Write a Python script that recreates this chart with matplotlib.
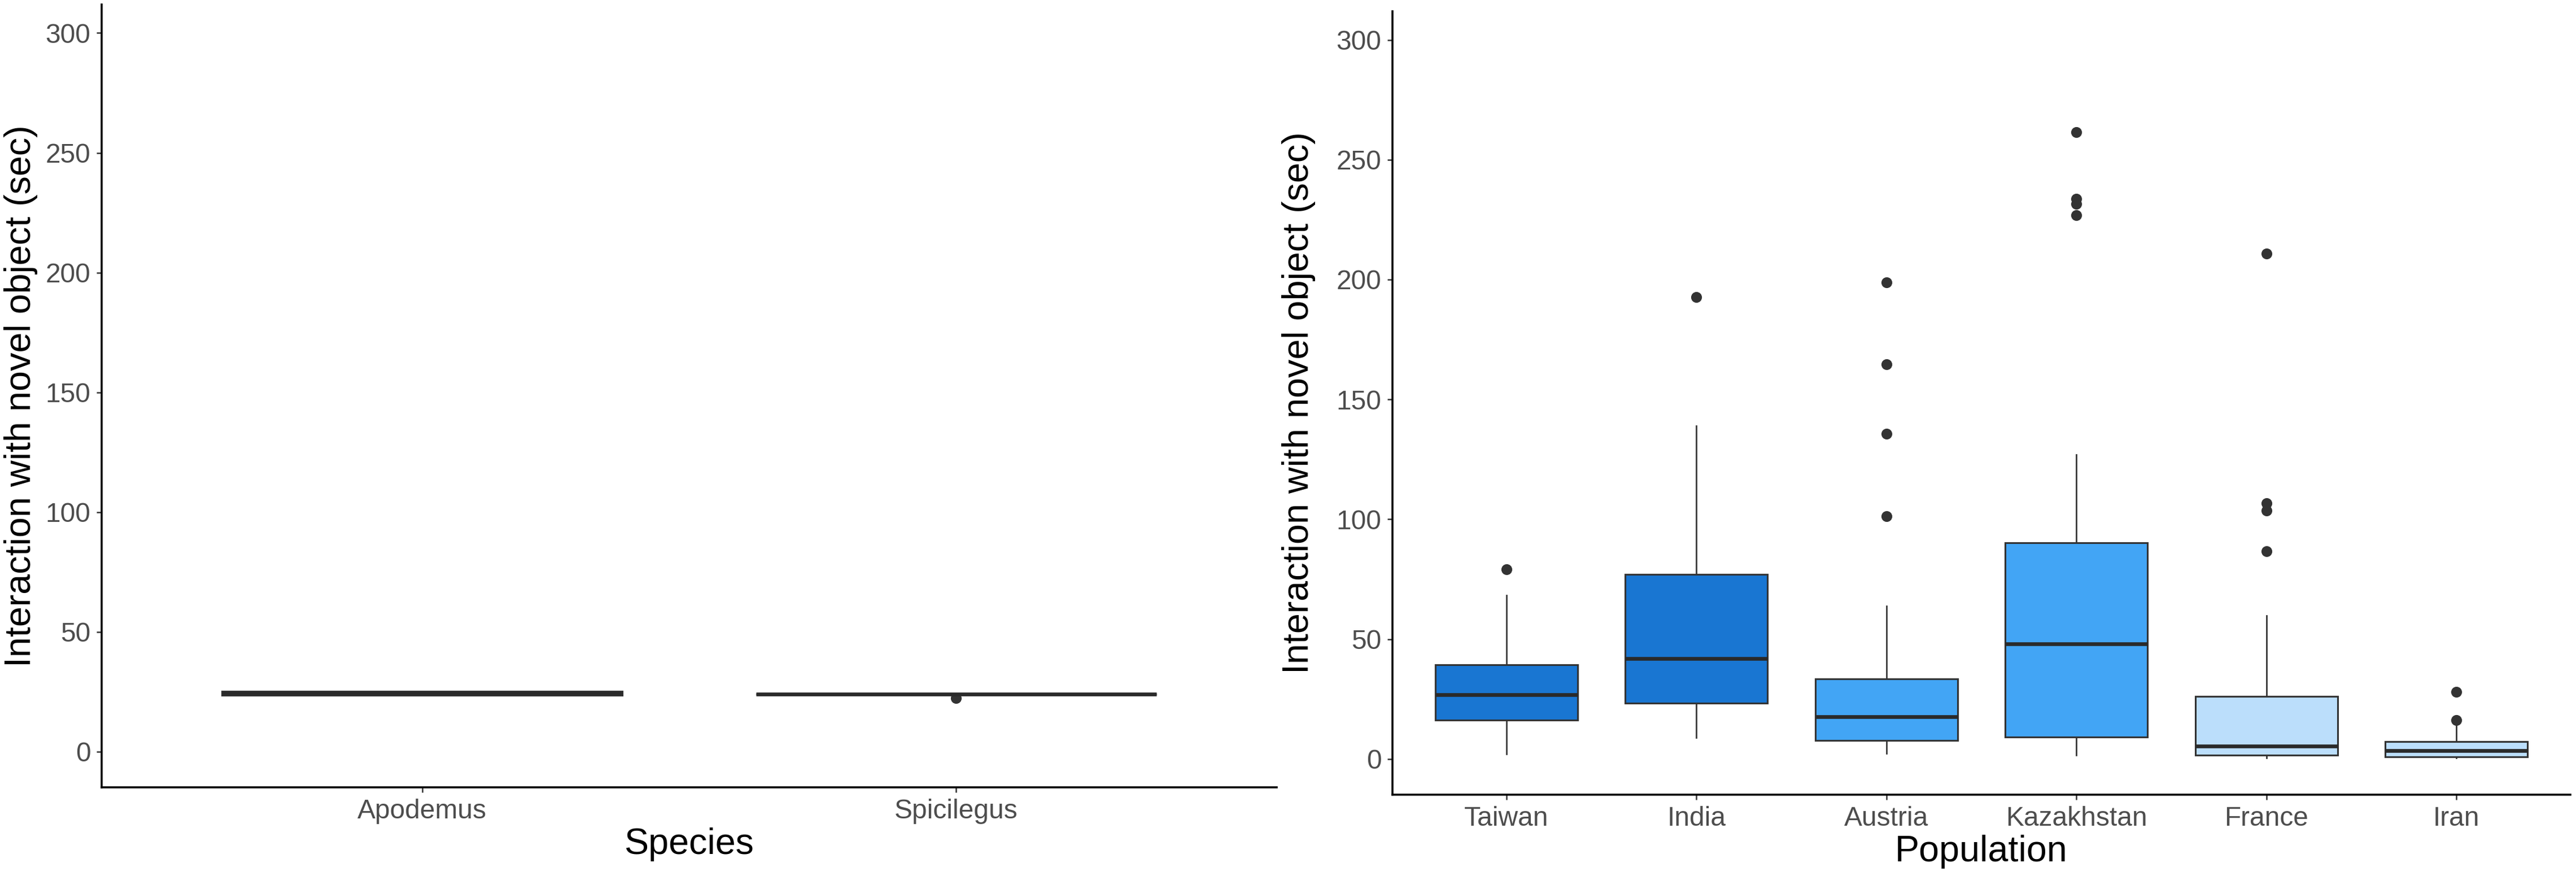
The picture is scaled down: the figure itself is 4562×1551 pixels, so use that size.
import numpy as np
import matplotlib
matplotlib.use("Agg")
import matplotlib.pyplot as plt

plt.rcParams['font.family'] = ['Liberation Sans', 'DejaVu Sans']

# Left panel: species
species = ['Apodemus', 'Spicilegus']
sp_q1 = [23.6, 24.0]
sp_med = [24.5, 24.0]
sp_q3 = [25.3, 24.0]
sp_lo = [23.6, 24.0]
sp_hi = [25.3, 24.0]
sp_out = [[], [22.3]]

# Right panel: populations
populations = ['Taiwan', 'India', 'Austria', 'Kazakhstan', 'France', 'Iran']
pop_q1 = [16.3, 23.3, 7.8, 9.2, 1.6, 1.0]
pop_med = [26.9, 42.0, 17.7, 48.1, 5.3, 3.5]
pop_q3 = [39.4, 77.0, 33.5, 90.3, 26.0, 7.2]
pop_lo = [2.1, 9.0, 2.4, 1.7, 0.5, 0.3]
pop_hi = [68.2, 139.0, 63.7, 127.0, 59.7, 15.0]
pop_out = [[79.0], [192.7], [101.3, 135.6, 164.6, 198.8],
           [226.8, 231.6, 233.7, 261.5], [86.6, 103.5, 106.6, 210.8],
           [16.3, 28.0]]
pop_colors = ['#1976D2', '#1976D2', '#42A5F5', '#42A5F5', '#BBDEFB', '#BBDEFB']

ytick_vals = [0, 50, 100, 150, 200, 250, 300]
ylab = 'Interaction with novel object (sec)'

line_col = '#333333'


def make_stats(q1, med, q3, lo, hi, out):
    stats = []
    for i in range(len(q1)):
        stats.append({'q1': q1[i], 'med': med[i], 'q3': q3[i],
                      'whislo': lo[i], 'whishi': hi[i], 'fliers': out[i]})
    return stats


def draw_panel(ax, labels, stats, colors, xlabel):
    bp = ax.bxp(stats, positions=np.arange(1, len(labels) + 1), widths=0.75,
                patch_artist=True, showcaps=False,
                boxprops=dict(edgecolor=line_col, linewidth=0.75),
                whiskerprops=dict(color=line_col, linewidth=0.65),
                medianprops=dict(color='#2a2a2a', linewidth=1.6, solid_capstyle='butt'),
                flierprops=dict(marker='o', markersize=3.6, markerfacecolor=line_col,
                                markeredgecolor=line_col, linestyle='none'))
    for patch, c in zip(bp['boxes'], colors):
        patch.set_facecolor(c)
    ax.set_xlim(0.4, len(labels) + 0.6)
    ax.set_ylim(-14.9, 311.9)
    ax.set_yticks(ytick_vals)
    ax.set_xticks(np.arange(1, len(labels) + 1))
    ax.set_xticklabels(labels)
    for s in ['top', 'right']:
        ax.spines[s].set_visible(False)
    for s in ['left', 'bottom']:
        ax.spines[s].set_linewidth(0.85)
        ax.spines[s].set_color('black')
    ax.tick_params(axis='both', length=2.2, width=0.6, color=line_col,
                   labelsize=11.5, labelcolor='#4D4D4D', pad=2.5)
    ax.set_xlabel(xlabel, fontsize=15.5, color='black', labelpad=1.5)
    ax.set_ylabel(ylab, fontsize=15.5, color='black')


fig = plt.figure(figsize=(4562 / 300, 1551 / 300), dpi=300)
ax1 = fig.add_axes([180 / 4562, 1 - 1394 / 1551, 2081 / 4562, 1386 / 1551])
ax2 = fig.add_axes([2466 / 4562, 1 - 1407 / 1551, 2086 / 4562, 1387 / 1551])

draw_panel(ax1, species, make_stats(sp_q1, sp_med, sp_q3, sp_lo, sp_hi, sp_out),
           ['white', 'white'], 'Species')
draw_panel(ax2, populations, make_stats(pop_q1, pop_med, pop_q3, pop_lo, pop_hi, pop_out),
           pop_colors, 'Population')

ax1.yaxis.set_label_coords((67 - 180) / 2081, 0.5)
ax2.yaxis.set_label_coords((2330 - 2466) / 2086, 0.5)

fig.savefig('out.png', dpi=300)
